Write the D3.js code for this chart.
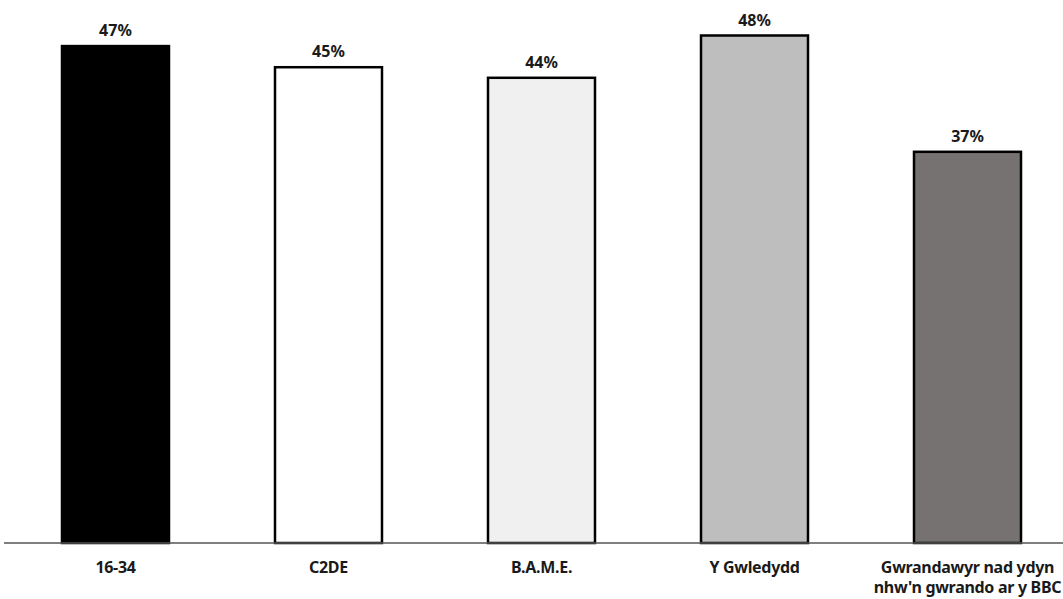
<!DOCTYPE html>
<html><head><meta charset="utf-8">
<script src="https://cdn.jsdelivr.net/npm/d3@7"></script>
<style>body{margin:0;background:#fff}svg{display:block}</style>
</head><body>
<script>
const categories = ["16-34", "C2DE", "B.A.M.E.", "Y Gwledydd", "Gwrandawyr nad ydyn|nhw'n gwrando ar y BBC"];
const values = [47, 45, 44, 48, 37];
const fills = ["#000000", "#ffffff", "#f0f0f0", "#bebebe", "#767271"];

const W = 1063, H = 599;
const svg = d3.select("body").append("svg").attr("width", W).attr("height", H);
const baseY = 543;
const x = d3.scaleBand().domain(categories).range([4, 1079]).paddingInner(0.4977).paddingOuter(0.2723);
const y = d3.scaleLinear().domain([0, 48]).range([baseY, 35.5]);

svg.selectAll("rect.bar").data(categories).join("rect")
  .attr("class", "bar")
  .attr("x", d => x(d))
  .attr("width", x.bandwidth())
  .attr("y", (d, i) => y(values[i]))
  .attr("height", (d, i) => baseY - y(values[i]))
  .attr("fill", (d, i) => fills[i])
  .attr("stroke", "#000").attr("stroke-width", 2.5);

svg.append("line").attr("x1", 4).attr("x2", W).attr("y1", baseY).attr("y2", baseY)
  .attr("stroke", "#555").attr("stroke-width", 1.5);

svg.selectAll("text.val").data(categories).join("text")
  .attr("class", "val")
  .attr("x", d => x(d) + x.bandwidth() / 2)
  .attr("y", (d, i) => y(values[i]) - 10)
  .attr("text-anchor", "middle")
  .attr("font-family", "'Noto Sans', sans-serif").attr("font-weight", "bold").attr("font-size", 16)
  .attr("fill", "#1a1a1a")
  .text((d, i) => values[i] + "%");

const lab = svg.selectAll("text.cat").data(categories).join("text")
  .attr("class", "cat")
  .attr("x", d => x(d) + x.bandwidth() / 2)
  .attr("y", 573)
  .attr("text-anchor", "middle")
  .attr("font-family", "'Noto Sans', sans-serif").attr("font-weight", "bold").attr("font-size", 16)
  .attr("letter-spacing", -0.3)
  .attr("fill", "#1a1a1a");
lab.each(function(d) {
  const parts = d.split("|");
  const t = d3.select(this);
  parts.forEach((p, j) => t.append("tspan").attr("x", t.attr("x")).attr("dy", j === 0 ? 0 : 20).text(p));
});
</script>
</body></html>
